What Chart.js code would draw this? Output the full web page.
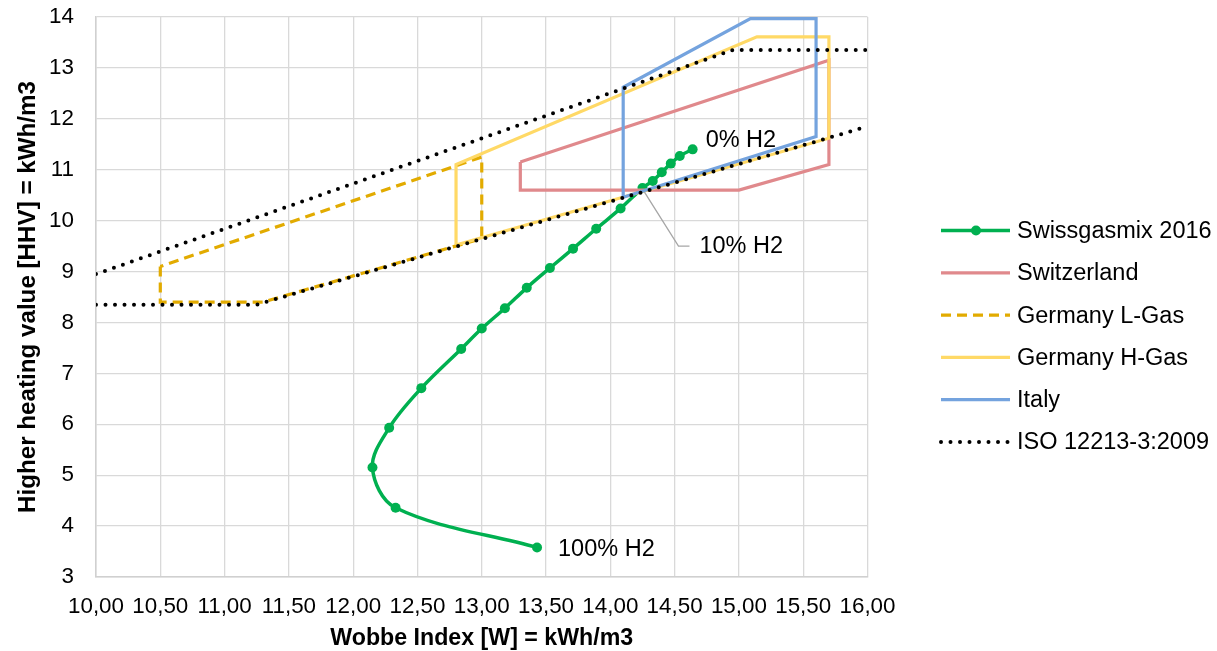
<!DOCTYPE html>
<html>
<head>
<meta charset="utf-8">
<script src="https://cdn.jsdelivr.net/npm/chart.js@4.4.0/dist/chart.umd.min.js"></script>
<style>
  html, body { margin: 0; padding: 0; background: #fff; }
  canvas { display: block; }
</style>
</head>
<body>
<canvas id="wobbeChart" width="1217" height="651"></canvas>
<script>
// values (x = Wobbe index, y = HHV, both kWh/m3)
const mixWobbe = [14.64, 14.54, 14.47, 14.40, 14.33, 14.25, 14.08, 13.89, 13.71, 13.53, 13.35, 13.18, 13.00, 12.84, 12.53, 12.28, 12.15, 12.33, 13.43];
const mixHhv   = [11.40, 11.27, 11.12, 10.95, 10.78, 10.64, 10.24, 9.84, 9.45, 9.07, 8.68, 8.28, 7.88, 7.48, 6.71, 5.93, 5.15, 4.36, 3.58];

const switzerlandWobbe = [13.3, 13.3, 15.0, 15.7, 15.7, 13.3];
const switzerlandHhv   = [11.15, 10.6, 10.6, 11.1, 13.15, 11.15];

const lGasWobbe = [10.5, 10.5, 11.3, 13.0, 13.0, 10.5];
const lGasHhv   = [9.1, 8.4, 8.4, 9.65, 11.25, 9.1];

const hGasWobbe = [12.8, 12.8, 15.14, 15.7, 15.7, 12.8];
const hGasHhv   = [9.52, 11.1, 13.61, 13.61, 11.62, 9.52];

const italyWobbe = [14.1, 14.1, 15.09, 15.6, 15.6, 14.1];
const italyHhv   = [10.46, 12.62, 13.97, 13.97, 11.65, 10.46];

const isoUpperWobbe = [10, 14.95, 16];
const isoUpperHhv   = [8.95, 13.35, 13.35];
const isoLowerWobbe = [10, 11.25, 16];
const isoLowerHhv   = [8.35, 8.35, 11.85];

const xTickLabels = ['10,00', '10,50', '11,00', '11,50', '12,00', '12,50', '13,00', '13,50', '14,00', '14,50', '15,00', '15,50', '16,00'];

const annotationText  = ['0% H2', '10% H2', '100% H2'];
const annotationIndex = [0, 5, 18];

const FONT = '"Liberation Sans", Arial, sans-serif';

function toPoints(xs, ys) {
  return xs.map((x, i) => ({ x: x, y: ys[i] }));
}

function polyline(label, xs, ys, color, extra) {
  return Object.assign({
    label: label,
    data: toPoints(xs, ys),
    showLine: true,
    borderColor: color,
    backgroundColor: color,
    borderWidth: 3.2,
    pointRadius: 0,
    pointHoverRadius: 0,
    tension: 0,
    fill: false
  }, extra || {});
}

const isoStyle = { borderDash: [0, 9.5], borderCapStyle: 'round', borderWidth: 4 };

const datasets = [
  polyline('Swissgasmix 2016', mixWobbe, mixHhv, '#00b050', {
    borderWidth: 3.5, pointRadius: 5, pointBorderWidth: 0, tension: 0.35, order: 6
  }),
  polyline('Switzerland', switzerlandWobbe, switzerlandHhv, '#e0898c', { order: 5 }),
  polyline('Germany L-Gas', lGasWobbe, lGasHhv, '#e2ab00', { borderDash: [10, 6], order: 4 }),
  polyline('Germany H-Gas', hGasWobbe, hGasHhv, '#ffd966', { order: 3 }),
  polyline('Italy', italyWobbe, italyHhv, '#74a3de', { order: 2 }),
  polyline('ISO 12213-3:2009', isoUpperWobbe, isoUpperHhv, '#000000', Object.assign({ order: 1 }, isoStyle)),
  polyline('', isoLowerWobbe, isoLowerHhv, '#000000', Object.assign({ order: 1 }, isoStyle))
];

// legend on the right, drawn by hand so the samples look like line segments
const sideLegend = {
  id: 'sideLegend',
  afterDraw(chart) {
    const ctx = chart.ctx;
    const items = chart.data.datasets.filter(d => d.label !== '');
    ctx.save();
    ctx.font = '23.5px ' + FONT;
    ctx.textBaseline = 'middle';
    items.forEach((d, i) => {
      const y = 230.5 + i * 42.3;
      ctx.beginPath();
      ctx.lineWidth = d.borderWidth;
      ctx.strokeStyle = d.borderColor;
      ctx.lineCap = d.borderCapStyle || 'butt';
      ctx.setLineDash(d.borderDash || []);
      ctx.moveTo(941, y);
      ctx.lineTo(1010, y);
      ctx.stroke();
      ctx.setLineDash([]);
      if (d.pointRadius > 0) {
        ctx.beginPath();
        ctx.fillStyle = d.borderColor;
        ctx.arc(976, y, d.pointRadius, 0, Math.PI * 2);
        ctx.fill();
      }
      ctx.fillStyle = '#000';
      ctx.fillText(d.label, 1017, y + 1);
    });
    ctx.restore();
  }
};

// point labels for the H2 share, incl. the leader line of "10% H2"
const h2Labels = {
  id: 'h2Labels',
  afterDatasetsDraw(chart) {
    const ctx = chart.ctx;
    const pts = chart.getDatasetMeta(0).data;
    ctx.save();
    ctx.font = '23.5px ' + FONT;
    ctx.textBaseline = 'middle';
    ctx.fillStyle = '#000';

    let p = pts[annotationIndex[0]];
    ctx.fillText(annotationText[0], p.x + 13, p.y - 9);

    p = pts[annotationIndex[1]];
    ctx.beginPath();
    ctx.strokeStyle = '#a6a6a6';
    ctx.lineWidth = 1.3;
    ctx.moveTo(p.x + 2, p.y + 4);
    ctx.lineTo(p.x + 36, p.y + 58);
    ctx.lineTo(p.x + 47, p.y + 58);
    ctx.stroke();
    ctx.fillText(annotationText[1], p.x + 57, p.y + 58);

    p = pts[annotationIndex[2]];
    ctx.fillText(annotationText[2], p.x + 21, p.y + 2);
    ctx.restore();
  }
};

const ctx = document.getElementById('wobbeChart').getContext('2d');

new Chart(ctx, {
  type: 'scatter',
  data: { datasets: datasets },
  plugins: [h2Labels, sideLegend],
  options: {
    responsive: false,
    animation: false,
    devicePixelRatio: 1,
    layout: { padding: { left: 0, top: 17, right: 349.5, bottom: 0 } },
    plugins: {
      legend: { display: false },
      tooltip: { enabled: false }
    },
    scales: {
      x: {
        type: 'linear',
        min: 10,
        max: 16,
        grid: { color: '#d9d9d9', lineWidth: 1.3, drawTicks: false },
        border: { color: '#d0d0d0', width: 1.5 },
        ticks: {
          stepSize: 0.5,
          autoSkip: false,
          maxRotation: 0,
          padding: 16,
          color: '#000',
          font: { family: FONT, size: 22.4 },
          callback: (value, index) => xTickLabels[index]
        },
        title: {
          display: true,
          text: 'Wobbe Index [W] = kWh/m3',
          color: '#000',
          font: { family: FONT, size: 23.2, weight: 'bold', lineHeight: 1.1 },
          padding: { top: 0, bottom: 0 }
        },
        afterFit(scale) {
          scale.height = 74;
          scale.paddingLeft = 0;
          scale.paddingRight = 0;
        }
      },
      y: {
        type: 'linear',
        min: 3,
        max: 14,
        grid: { color: '#d9d9d9', lineWidth: 1.3, drawTicks: false },
        border: { color: '#d0d0d0', width: 1.5 },
        ticks: {
          stepSize: 1,
          padding: 22,
          color: '#000',
          font: { family: FONT, size: 22.4 }
        },
        title: {
          display: true,
          text: 'Higher heating value [HHV] = kWh/m3',
          color: '#000',
          font: { family: FONT, size: 24.2, weight: 'bold' },
          padding: { top: 14, bottom: 0 }
        },
        afterFit(scale) {
          scale.width = 96;
          scale.paddingTop = 0;
          scale.paddingBottom = 0;
        }
      }
    }
  }
});
</script>
</body>
</html>
